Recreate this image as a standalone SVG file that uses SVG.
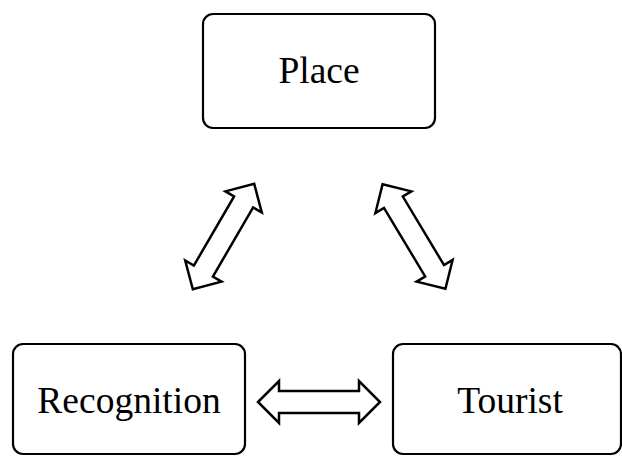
<svg xmlns="http://www.w3.org/2000/svg" width="622" height="456" viewBox="0 0 622 456">
<style>
.box{fill:#fff;stroke:#000;stroke-width:2.2}
.lbl{font-family:"Liberation Serif","Times New Roman",serif;font-size:37.5px;fill:#000;text-anchor:middle}
.arr{fill:#fff;stroke:#000;stroke-width:2.5;stroke-linejoin:miter}
</style>
<defs>
<polygon id="dbl" points="-61,0 -40,-21 -40,-11 40,-11 40,-21 61,0 40,21 40,11 -40,11 -40,21"/>
</defs>
<rect width="622" height="456" fill="#fff"/>
<g id="place"><rect class="box" x="203" y="14" width="232" height="114" rx="10"/><text class="lbl" x="319" y="83">Place</text></g>
<g id="recognition"><rect class="box" x="13" y="344" width="232" height="110" rx="10"/><text class="lbl" x="129" y="413">Recognition</text></g>
<g id="tourist"><rect class="box" x="393" y="344" width="228" height="110" rx="10"/><text class="lbl" x="510" y="413">Tourist</text></g>
<g id="connectors">
<use href="#dbl" class="arr" transform="translate(223.5,236.5) rotate(-59.8)"/>
<use href="#dbl" class="arr" transform="translate(414,236.5) rotate(59)"/>
<use href="#dbl" class="arr" transform="translate(319,402)"/>
</g>
</svg>
